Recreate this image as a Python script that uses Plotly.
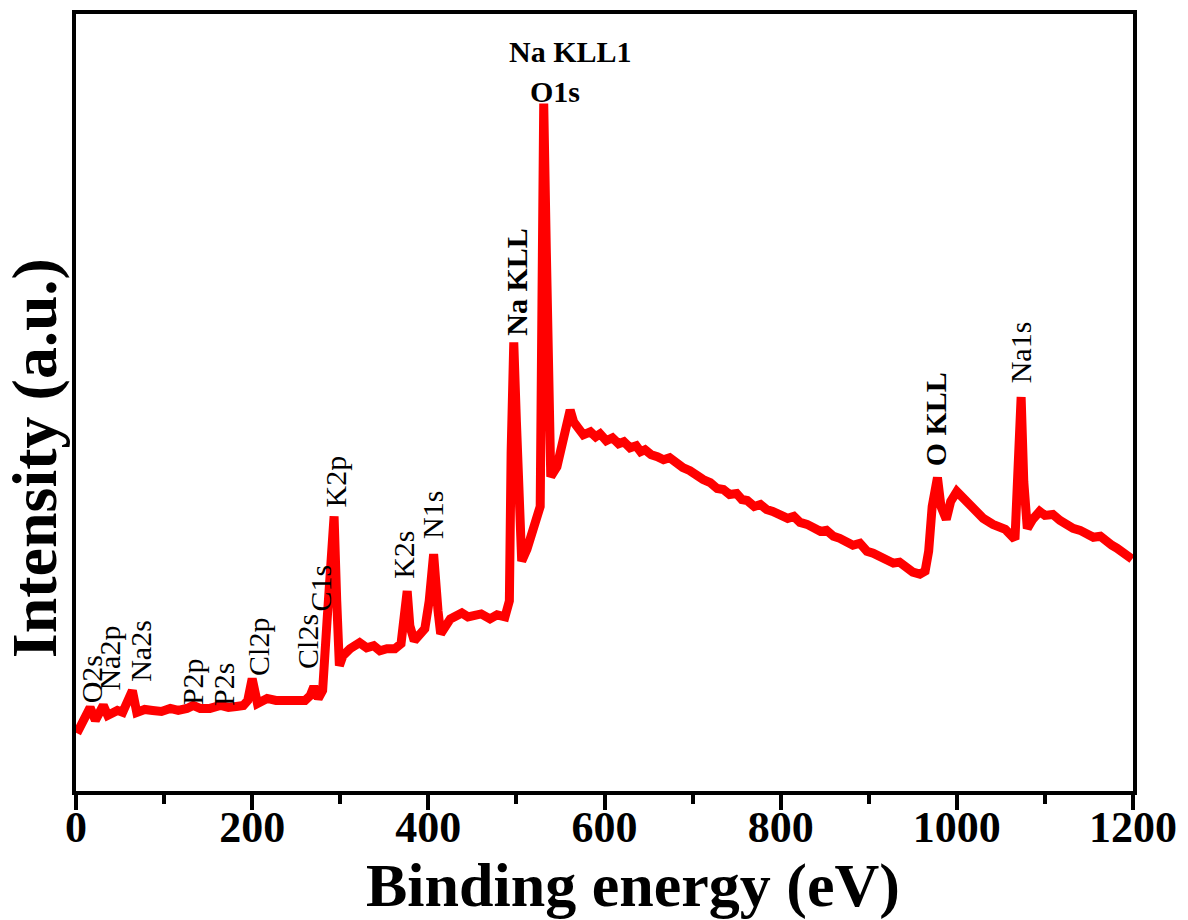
import plotly.graph_objects as go

# XPS survey spectrum: binding energy (eV) and intensity (a.u.)
energy_ev = [
    1, 8, 16, 22, 31, 36, 47, 53, 64, 69, 78, 87, 97, 107, 116, 126, 133, 141,
    152, 164, 173, 182, 190, 195, 200, 206, 217, 227, 237, 248, 260, 266, 270,
    275, 280, 285, 290, 293, 296, 299, 303, 311, 322, 330, 338, 345, 353, 362,
    369, 372, 376, 379, 384, 391, 396, 401, 406, 411, 414, 425, 432, 438, 445,
    451, 460, 470, 478, 487, 492, 494, 497, 500, 503, 506, 512, 517, 523, 527,
    529, 531, 534, 536, 539, 546, 552, 557, 561, 565, 570, 576, 584, 590, 595,
    602, 609, 616, 622, 629, 636, 641, 646, 653, 660, 667, 674, 682, 689, 697,
    704, 712, 720, 728, 735, 742, 750, 756, 762, 770, 777, 784, 791, 800, 808,
    815, 822, 830, 838, 845, 852, 860, 867, 875, 882, 890, 898, 905, 913, 920,
    928, 935, 943, 950, 958, 964, 968, 972, 978, 982, 988, 993, 1000, 1006,
    1012, 1021, 1030, 1041, 1048, 1055, 1066, 1069, 1073, 1076, 1080, 1086,
    1094, 1100, 1109, 1117, 1124, 1132, 1140, 1148, 1155, 1163, 1170, 1176,
    1182, 1190, 1199,
]
intensity = [
    58, 71, 84, 71, 86, 76, 81, 79, 101, 79, 82, 81, 80, 83, 81, 83, 86, 83,
    83, 86, 84, 85, 86, 91, 113, 88, 93, 91, 91, 90, 91, 96, 105,
    93, 101, 171, 251, 276, 191, 126, 136, 143, 149, 144, 146, 141, 143, 143,
    148, 166, 201, 166, 151, 158, 163, 191, 238, 181, 158, 173, 176, 179, 175,
    176, 178, 173, 177, 175, 191, 341, 451, 371, 261, 231, 243, 256, 271, 286,
    491, 691, 541, 371, 316, 326, 349, 371, 383, 371, 363, 358, 361, 356, 359,
    352, 355, 349, 351, 345, 347, 341, 343, 338, 336, 333, 335, 329, 325, 322,
    317, 313, 310, 304, 303, 298, 299, 293, 292, 286, 288, 283, 281, 278, 274,
    276, 270, 268, 265, 261, 262, 256, 254, 251, 247, 249, 241, 239, 236, 233,
    229, 230, 225, 220, 218, 221, 241, 286, 315, 286, 273, 291, 301, 296,
    288, 281, 274, 268, 266, 263, 253, 311, 396, 311, 264, 273,
    281, 277, 278, 272, 268, 264, 262, 258, 255, 256, 250, 247,
    244, 240, 233,
]

# Peak assignments: text, label centre (eV), label base (a.u.), bold flag
peak_names = ["O2s", "Na2p", "Na2s", "P2p", "P2s", "Cl2p", "Cl2s", "C1s",
              "K2p", "K2s", "N1s", "Na KLL", "O KLL", "Na1s"]
peak_label_ev = [18, 37, 73, 133, 168, 207, 262, 277, 294, 371, 405, 500, 976, 1072]
peak_label_base = [86, 99, 108, 84, 84, 114, 121, 179, 283, 211, 251, 456, 324, 408]
peak_label_bold = [False, False, False, False, False, False, False, False,
                   False, False, False, True, True, False]

# Horizontal labels stacked above the strongest peak
top_names = ["Na KLL1", "O1s"]
top_label_ev = [561, 544]
top_label_level = [743, 703]

x_ticks = [0, 200, 400, 600, 800, 1000, 1200]

serif = "Liberation Serif"

fig = go.Figure(
    go.Scatter(
        x=energy_ev,
        y=intensity,
        mode="lines",
        line=dict(color="#ff0000", width=9),
        hoverinfo="skip",
        showlegend=False,
    )
)

annotations = []
for name, xv, yv, bold in zip(peak_names, peak_label_ev, peak_label_base, peak_label_bold):
    annotations.append(dict(
        x=xv, y=yv, xref="x", yref="y", text=name, showarrow=False,
        textangle=-90, xanchor="center", yanchor="bottom",
        font=dict(family=serif, size=30, color="black",
                  weight="bold" if bold else "normal"),
    ))
for name, xv, yv in zip(top_names, top_label_ev, top_label_level):
    annotations.append(dict(
        x=xv, y=yv, xref="x", yref="y", text=name, showarrow=False,
        xanchor="center", yanchor="middle",
        font=dict(family=serif, size=30, color="black", weight="bold"),
    ))

# Axis titles
annotations.append(dict(
    x=0.527, y=-0.122, xref="paper", yref="paper", text="Binding energy (eV)",
    showarrow=False, xanchor="center", yanchor="middle",
    font=dict(family=serif, size=62, color="black", weight="bold"),
))
annotations.append(dict(
    x=-0.039, y=0.428, xref="paper", yref="paper", text="Intensity (a.u.)",
    showarrow=False, xanchor="center", yanchor="middle", textangle=-90,
    font=dict(family=serif, size=64, color="black", weight="bold"),
))

fig.update_layout(
    width=1188,
    height=920,
    margin=dict(l=76, r=55, t=10, b=129),
    paper_bgcolor="white",
    plot_bgcolor="white",
    annotations=annotations,
    xaxis=dict(
        range=[0, 1200],
        tickvals=x_ticks,
        ticks="outside",
        ticklen=15,
        tickwidth=4,
        tickcolor="black",
        ticklabelstandoff=-21,
        showline=True,
        linewidth=4,
        linecolor="black",
        mirror=True,
        showgrid=False,
        zeroline=False,
        tickfont=dict(family=serif, size=44, color="black", weight="bold"),
        minor=dict(ticks="outside", ticklen=9, tickwidth=4, tickcolor="black",
                   tick0=100, dtick=200, showgrid=False),
    ),
    yaxis=dict(
        range=[0, 781],
        showticklabels=False,
        ticks="",
        showline=True,
        linewidth=4,
        linecolor="black",
        mirror=True,
        showgrid=False,
        zeroline=False,
    ),
)

fig.write_html("out.html")
